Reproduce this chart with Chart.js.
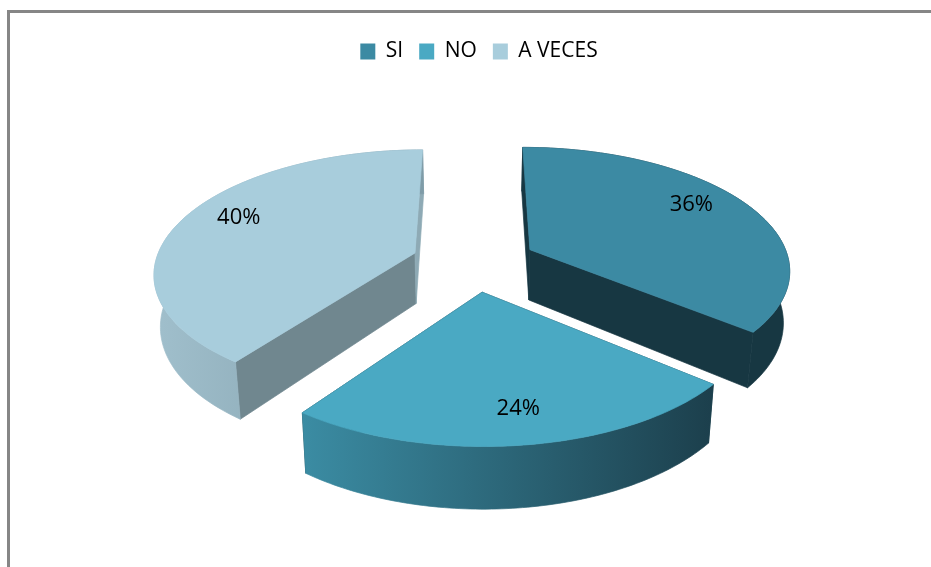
<!DOCTYPE html>
<html>
<head>
<meta charset="utf-8">
<script src="https://cdn.jsdelivr.net/npm/chart.js@4"></script>
<style>
  html, body { margin: 0; background: #fff; overflow: hidden; }
  #frame { position: absolute; left: 7px; top: 10px; width: 930px; height: 570px; border-left: 3px solid #868686; border-top: 3px solid #868686; }
  #pie { position: absolute; left: 0; top: 0; }
</style>
</head>
<body>
<div id="frame"></div>
<canvas id="pie" width="931" height="567"></canvas>
<script>
const categories = ["SI", "NO", "A VECES"];
const shares = [36, 24, 40];

const topColours = ["#3c8aa3", "#4aa9c3", "#a8cddc"];
const startCutColours = ["#173742", "#17404e", "#70878f"];
const endCutColours = ["#173742", "#17404e", "#8eaab5"];
const rimLeftColours = ["#173742", "#3b8ca3", "#a0bfcc"];
const rimRightColours = ["#173742", "#1c3f4c", "#7f9ca8"];

// how far along the slice each label sits, sideways and front-to-back
const labelReachX = [0.754, 0.91, 0.767];
const labelReachY = [0.95, 0.79, 1.02];

// perspective of the tilted pie
const spreadX = 1.531;
const spreadY = 0.7145;
const tilt = 0.15;
const thickness = 51;
const taper = 0.98;
const nudgeX = -5; // legend sits a little right of the pie

function project(arc, x, y) {
  const f = 1 / (1 - tilt * y);
  return {
    x: arc.x + nudgeX + arc.outerRadius * spreadX * x * f,
    y: arc.y + arc.outerRadius * spreadY * y * f,
    f: f,
  };
}

function lower(arc, p) {
  const cx = arc.x + nudgeX;
  return { x: cx + (p.x - cx) * taper, y: p.y + thickness * p.f };
}

function fillShape(ctx, points, fill) {
  ctx.beginPath();
  points.forEach((p, i) => (i ? ctx.lineTo(p.x, p.y) : ctx.moveTo(p.x, p.y)));
  ctx.closePath();
  ctx.fillStyle = fill;
  ctx.fill();
  // hides the hairline seam between neighbouring faces
  ctx.strokeStyle = fill;
  ctx.lineWidth = 0.7;
  ctx.stroke();
}

const pie3d = {
  id: "pie3d",
  beforeDatasetsDraw(chart) {
    const ctx = chart.ctx;
    const arcs = chart.getDatasetMeta(0).data;

    arcs.forEach((arc, i) => {
      const mid = (arc.startAngle + arc.endAngle) / 2;
      const shift = arc.options.offset / arc.outerRadius;
      const ox = shift * Math.cos(mid);
      const oy = shift * Math.sin(mid);

      const rim = [];
      for (let s = 0; s <= 90; s++) {
        const t = arc.startAngle + ((arc.endAngle - arc.startAngle) * s) / 90;
        rim.push(project(arc, ox + Math.cos(t), oy + Math.sin(t)));
      }
      const apex = project(arc, ox, oy);
      const first = rim[0];
      const last = rim[rim.length - 1];

      // cut faces
      fillShape(ctx, [apex, first, lower(arc, first), lower(arc, apex)], startCutColours[i]);
      fillShape(ctx, [apex, last, lower(arc, last), lower(arc, apex)], endCutColours[i]);

      // outer wall
      const xs = rim.map((p) => p.x);
      const shade = ctx.createLinearGradient(Math.min(...xs), 0, Math.max(...xs), 0);
      shade.addColorStop(0, rimLeftColours[i]);
      shade.addColorStop(1, rimRightColours[i]);
      fillShape(ctx, rim.concat(rim.map((p) => lower(arc, p)).reverse()), shade);

      // top face
      fillShape(ctx, [apex].concat(rim), topColours[i]);

      // value label
      const label = project(
        arc,
        ox + labelReachX[i] * Math.cos(mid),
        oy + labelReachY[i] * Math.sin(mid)
      );
      ctx.fillStyle = "#000";
      ctx.font = '22px "Open Sans"';
      ctx.textAlign = "center";
      ctx.textBaseline = "middle";
      ctx.fillText(shares[i] + "%", label.x, label.y);
    });
    return false;
  },
};

new Chart(document.getElementById("pie"), {
  type: "pie",
  data: {
    labels: categories,
    datasets: [
      {
        data: shares,
        backgroundColor: topColours,
        borderWidth: 0,
        offset: 41,
      },
    ],
  },
  options: {
    responsive: false,
    animation: false,
    layout: { padding: { left: 27, top: 25, bottom: 115 } },
    plugins: {
      tooltip: { enabled: false },
      legend: {
        position: "top",
        labels: {
          boxWidth: 15,
          boxHeight: 16,
          padding: 16,
          color: "#000",
          font: { family: '"Open Sans"', size: 21 },
        },
      },
    },
  },
  plugins: [pie3d],
});
</script>
</body>
</html>
